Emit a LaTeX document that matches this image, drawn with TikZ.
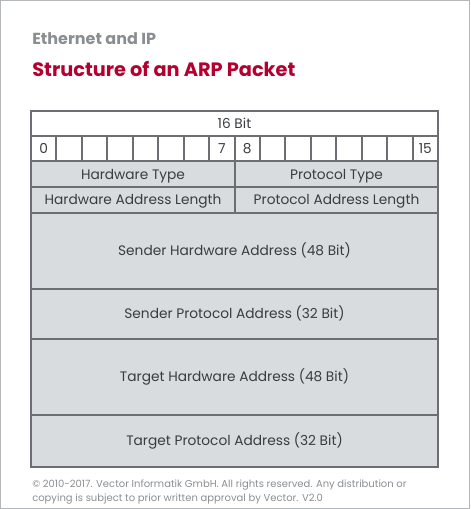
\documentclass[tikz,border=0pt]{standalone}
\usepackage{fontspec}
\setmainfont{Poppins}
\definecolor{frame}{HTML}{B4B7BA}
\definecolor{cellline}{HTML}{6B6F73}
\definecolor{cellfill}{HTML}{D9DCDF}
\definecolor{vred}{HTML}{B5002F}
\definecolor{vgrey}{HTML}{8A8E92}
\definecolor{txt}{HTML}{3A3D40}
\begin{document}
\begin{tikzpicture}[x=0.75pt,y=-0.75pt,
  cellbox/.style={draw=cellline,line width=1.5pt,inner sep=0pt,outer sep=0pt,anchor=north west,text=txt,text height=0.72em,text depth=0pt,font=\fontsize{10.3pt}{12pt}\selectfont},
  whitecell/.style={cellbox,fill=white},
  greycell/.style={cellbox,fill=cellfill}]
\useasboundingbox (0,0) rectangle (470,509);
\draw[frame,line width=1.1pt] (0.6,0.6) rectangle (469.4,508.4);
\node[anchor=base west,inner sep=0pt,text=vgrey,font=\fontsize{12pt}{14pt}\selectfont\bfseries] (sub) at (32,45) {Ethernet and IP};
\node[anchor=base west,inner sep=0pt,text=vred,font=\fontsize{14.5pt}{17pt}\selectfont\bfseries] (title) at (32,77) {Structure of an ARP Packet};
% 16 bit row
\node[whitecell,minimum width=407*0.75pt,minimum height=25*0.75pt] (bitrow) at (31,111) {16 Bit};
% bit cells
\foreach \i/\lab in {0/0,1/,2/,3/,4/,5/,6/,7/7,8/8,9/,10/,11/,12/,13/,14/,15/15}{
  \node[whitecell,minimum width=25.4375*0.75pt,minimum height=25.5*0.75pt] (b\i) at ({31+25.4375*\i},136) {\lab};
}
\node[greycell,minimum width=204*0.75pt,minimum height=25.5*0.75pt] (hwtype) at (31,161.5) {Hardware Type};
\node[greycell,minimum width=203*0.75pt,minimum height=25.5*0.75pt] (prtype) at (235,161.5) {Protocol Type};
\node[greycell,minimum width=204*0.75pt,minimum height=26*0.75pt] (hwlen) at (31,187) {Hardware Address Length};
\node[greycell,minimum width=203*0.75pt,minimum height=26*0.75pt] (prlen) at (235,187) {Protocol Address Length};
\node[greycell,minimum width=407*0.75pt,minimum height=76*0.75pt] (sha) at (31,213) {Sender Hardware Address (48 Bit)};
\node[greycell,minimum width=407*0.75pt,minimum height=50*0.75pt] (spa) at (31,289) {Sender Protocol Address (32 Bit)};
\node[greycell,minimum width=407*0.75pt,minimum height=76*0.75pt] (tha) at (31,339) {Target Hardware Address (48 Bit)};
\node[greycell,minimum width=407*0.75pt,minimum height=52*0.75pt] (tpa) at (31,415) {Target Protocol Address (32 Bit)};
\node[anchor=north west,align=left,inner sep=0pt,text=vgrey,font=\fontsize{7.5pt}{10pt}\selectfont] (foot) at (32,480) {© 2010-2017. Vector Informatik GmbH. All rights reserved. Any distribution or\\copying is subject to prior written approval by Vector. V2.0};
\end{tikzpicture}
\end{document}
